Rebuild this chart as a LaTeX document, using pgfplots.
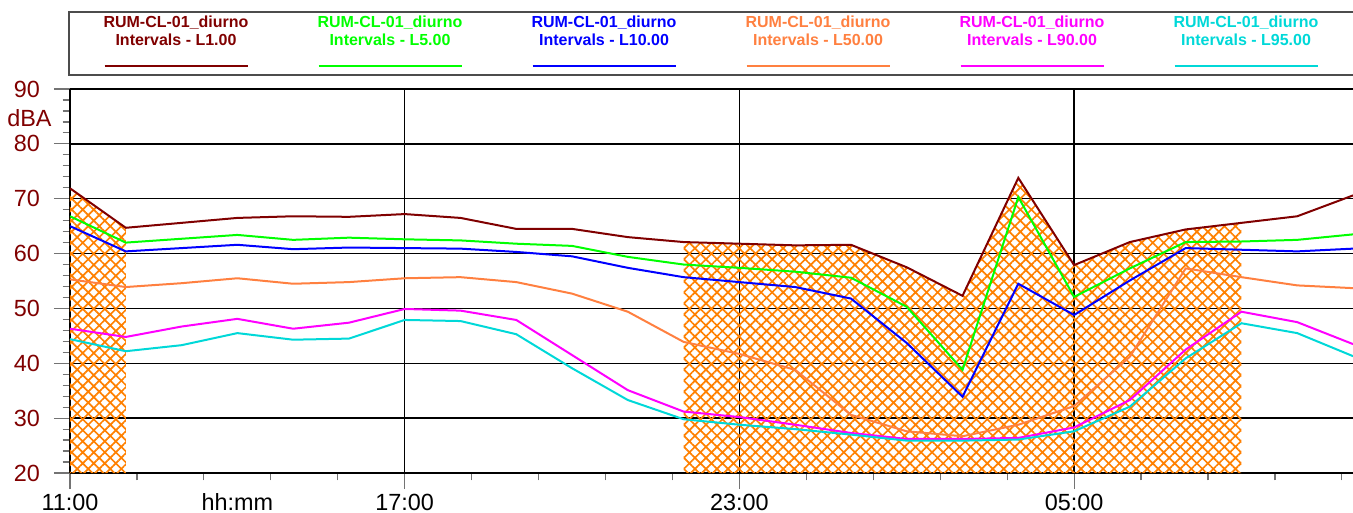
\documentclass[border=0pt]{standalone}
\usepackage{pgfplots}
\pgfplotsset{compat=1.18}
\usepackage{pgfplotstable}
\usepackage{fontspec}
\setmainfont{Liberation Sans}
\usetikzlibrary{patterns.meta}

\definecolor{cLone}{HTML}{800000}
\definecolor{cLfive}{HTML}{00FF00}
\definecolor{cLten}{HTML}{0000FF}
\definecolor{cLfifty}{HTML}{FF8040}
\definecolor{cLninety}{HTML}{FF00FF}
\definecolor{cLninetyfive}{HTML}{00D8D8}
\definecolor{hatchorange}{HTML}{FF8000}

% hourly levels, h = hours after 11:00
\pgfplotstableread{
h  L1   L5   L10  L50  L90  L95
0  71.9 66.8 65.0 55.3 46.3 44.4
1  64.7 62.0 60.4 53.9 44.8 42.2
2  65.6 62.7 61.0 54.6 46.7 43.3
3  66.5 63.4 61.6 55.5 48.1 45.5
4  66.8 62.5 60.8 54.5 46.3 44.3
5  66.7 62.9 61.1 54.8 47.4 44.5
6  67.2 62.6 61.0 55.5 49.9 47.9
7  66.5 62.4 60.9 55.7 49.6 47.7
8  64.5 61.8 60.3 54.8 47.9 45.3
9  64.5 61.4 59.5 52.7 41.5 39.1
10 63.0 59.4 57.4 49.4 35.1 33.3
11 62.1 58.0 55.7 43.9 31.2 29.8
12 61.8 57.4 54.8 41.7 30.2 28.8
13 61.5 56.7 53.9 38.8 28.8 28.0
14 61.6 55.6 51.8 30.6 27.3 27.0
15 57.5 50.3 43.7 27.6 26.2 25.9
16 52.3 38.8 33.9 26.7 26.2 25.9
17 73.8 70.3 54.5 28.8 26.4 26.1
18 57.9 52.1 48.8 32.2 28.3 27.6
19 62.1 57.3 55.1 41.2 33.3 32.1
20 64.4 62.1 61.0 57.3 42.5 40.9
21 65.6 62.2 60.7 55.7 49.4 47.3
22 66.8 62.5 60.4 54.2 47.5 45.5
23 70.6 63.5 60.9 53.7 43.5 41.3
}\levels

\newcommand{\tickfont}{\fontsize{11.7}{14}\selectfont}
\newcommand{\legfont}{\fontsize{8}{9}\selectfont\bfseries}

\begin{document}
\begin{tikzpicture}
\begin{axis}[
  scale only axis, width=641.5pt, height=192pt,
  xmin=0, xmax=23, ymin=20, ymax=90,
  axis x line=box, axis y line=left,
  axis line style={-, line width=1pt, black},
  tick align=outside,
  xtick pos=bottom, ytick pos=left,
  xtick={0,6,12,18}, xticklabels={11:00,17:00,23:00,05:00},
  minor xtick={1.2,2.4,3.6,4.8,7.2,8.4,9.6,10.8,13.2,14.4,15.6,16.8,19.2,20.4,21.6,22.8},
  extra x ticks={3}, extra x tick labels={hh:mm},
  extra x tick style={grid=none, major tick style={draw=none}},
  ytick={20,30,...,90}, minor y tick num=4,
  major tick length=8pt, minor tick length=3.7pt,
  every tick/.style={black!55, line width=0.6pt},
  xmajorgrids, ymajorgrids,
  major grid style={black, line width=0.65pt},
  ticklabel style={font=\tickfont},
  xticklabel style={yshift=1.2pt},
  yticklabel style={text=cLone, xshift=-3.5pt},
  /pgf/number format/assume math mode=true,
]
% night-time hatching under L1
\addplot[draw=none, pattern={Hatch[angle=45,distance=3.9pt,line width=0.85pt]}, pattern color=hatchorange]
  coordinates {(0,71.9)(1,64.7)} \closedcycle;
\addplot[draw=none, pattern={Hatch[angle=45,distance=3.9pt,line width=0.85pt]}, pattern color=hatchorange]
  coordinates {(11,62.1)(12,61.8)(13,61.5)(14,61.6)(15,57.5)(16,52.3)(17,73.8)(18,57.9)(19,62.1)(20,64.4)(21,65.6)} \closedcycle;

\addplot[cLone, line width=1pt] table[x=h, y=L1] {\levels};
\addplot[cLfive, line width=1pt] table[x=h, y=L5] {\levels};
\addplot[cLten, line width=1pt] table[x=h, y=L10] {\levels};
\addplot[cLfifty, line width=1pt] table[x=h, y=L50] {\levels};
\addplot[cLninety, line width=1pt] table[x=h, y=L90] {\levels};
\addplot[cLninetyfive, line width=1pt] table[x=h, y=L95] {\levels};

\coordinate (bl) at (rel axis cs:0,0);
\coordinate (tl) at (rel axis cs:0,1);
\coordinate (tr) at (rel axis cs:1,1);
\coordinate (dba) at (axis cs:0,84.6);
\end{axis}

\node[anchor=east, text=cLone, font=\tickfont, inner sep=0pt] at ([xshift=-9pt]dba) {dBA};

% legend box
\draw[black!70, line width=0.6pt] ([xshift=-0.5pt,yshift=7pt]tl) rectangle ([xshift=10pt,yshift=38.5pt]tr);
\foreach \cx/\col/\lab in {53/cLone/1.00,160/cLfive/5.00,267/cLten/10.00,374/cLfifty/50.00,481/cLninety/90.00,588/cLninetyfive/95.00}{
  \node[anchor=base, text=\col, font=\legfont, inner sep=0pt] at ([xshift=\cx pt, yshift=30.85pt]tl) {RUM-CL-01\_diurno};
  \node[anchor=base, text=\col, font=\legfont, inner sep=0pt] at ([xshift=\cx pt, yshift=21.65pt]tl) {Intervals - L\lab};
  \draw[\col, line width=1pt] ([xshift=\cx pt-35.75pt, yshift=11.5pt]tl) -- ([xshift=\cx pt+35.75pt, yshift=11.5pt]tl);
}

\pgfresetboundingbox
\path[use as bounding box] ([xshift=-35pt,yshift=-20pt]bl) rectangle ([yshift=44.5pt]tr);
\end{tikzpicture}
\end{document}
